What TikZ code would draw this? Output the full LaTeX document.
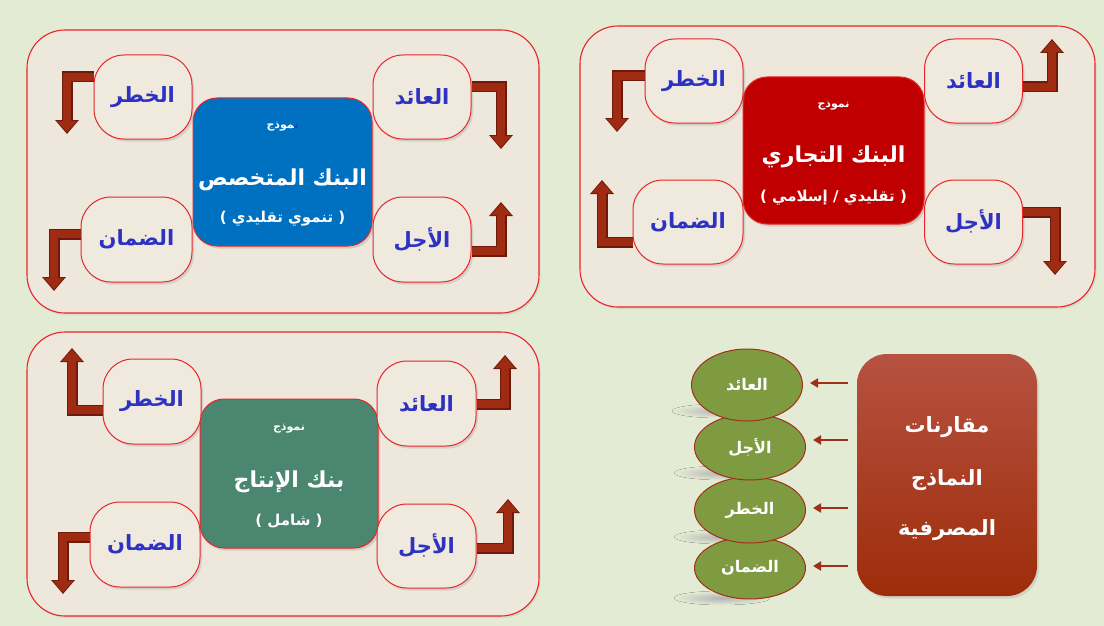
\documentclass[tikz,border=0pt]{standalone}
\usepackage{fontspec}
\usetikzlibrary{arrows.meta,shadows,shapes.geometric}
\TeXXeTstate=1
\newfontfamily\arfont[Script=Arabic]{DejaVu Sans}
\definecolor{bg}{HTML}{E4EBD4}
\definecolor{panelfill}{HTML}{EEE7DB}
\definecolor{boxfill}{HTML}{EFE9DE}
\definecolor{bord}{HTML}{E8262A}
\definecolor{lbl}{HTML}{2E32C2}
\definecolor{arrmain}{HTML}{9E2B12}
\definecolor{arrdark}{HTML}{6E1A0A}
\definecolor{cred}{HTML}{C00000}
\definecolor{cblue}{HTML}{0070C0}
\definecolor{cgreen}{HTML}{4A8670}
\definecolor{olive}{HTML}{7F9B42}
\definecolor{ellbord}{HTML}{A0301A}
\definecolor{mtop}{HTML}{B65241}
\definecolor{mbot}{HTML}{9E2C0A}
\newcommand\ar[1]{{\arfont\bfseries\beginR #1\endR}}
\newcommand\blockarrow[2]{\draw[blkout] #1 -| #2; \draw[blkin] #1 -| #2;}
\tikzset{
  panel/.style={draw=bord, line width=1.1pt, fill=panelfill, rounded corners=38pt, inner sep=0pt,
    drop shadow={shadow xshift=1.5pt, shadow yshift=-2pt, opacity=0.15}},
  smallbox/.style={draw=bord, line width=1pt, fill=boxfill, rounded corners=30pt,
    minimum width=98pt, minimum height=84pt, inner sep=0pt,
    font=\fontsize{21}{24}\selectfont, text=lbl,
    drop shadow={shadow xshift=2pt, shadow yshift=-2.5pt, opacity=0.22}},
  centerbox/.style={draw=bord, line width=1pt, rounded corners=24pt, inner sep=0pt,
    drop shadow={shadow xshift=2pt, shadow yshift=-2.5pt, opacity=0.25}},
  ctxt/.style={text=white, inner sep=0pt},
  blkout/.style={draw=arrdark, line width=11pt, line join=miter, -{Triangle[width=23pt,length=14pt]}},
  blkin/.style={draw=arrmain, line width=8.5pt, line join=miter, shorten >=1.6pt, -{Triangle[width=19.5pt,length=11.5pt]}},
  ell/.style={ellipse, draw=ellbord, line width=1pt, fill=olive, inner sep=0pt, text=white,
    minimum width=111pt, minimum height=70pt, font=\fontsize{16}{19}\selectfont},
  smallarr/.style={draw=ellbord, line width=2.6pt, shorten <=9pt, shorten >=7pt, -{Triangle[width=9pt,length=8pt]}}
}
\begin{document}
\begin{tikzpicture}[x=1pt,y=-1pt]
\useasboundingbox (0,0) rectangle (1104,626);
\fill[bg] (0,0) rectangle (1104,626);

% ===== top right panel =====
\node[panel, minimum width=515pt, minimum height=281pt] (p1) at (837.5,166.5) {};
\node[centerbox, fill=cred, minimum width=181pt, minimum height=147pt] (c1) at (833.5,150.5) {};
\node[ctxt, font=\fontsize{11}{13}\selectfont] (c1a) at (833.5,106) {\ar{نموذج}};
\node[ctxt, font=\fontsize{22}{26}\selectfont] (c1b) at (833.5,157) {\ar{البنك التجاري}};
\node[ctxt, font=\fontsize{15}{18}\selectfont] (c1c) at (833.5,198) {\ar{( تقليدي / إسلامي )}};
\node[smallbox] (r1) at (973.5,81) {\ar{العائد}};
\node[smallbox] (k1) at (694,81) {\ar{الخطر}};
\node[smallbox, minimum width=110pt] (d1) at (688,222) {\ar{الضمان}};
\node[smallbox] (a1) at (973.5,222) {\ar{الأجل}};
\coordinate (t1r) at (1052,39);
\coordinate (t1k) at (617,132);
\coordinate (t1d) at (602,180);
\coordinate (t1a) at (1055,275);
\blockarrow{(r1.east |- 0,87)}{(t1r)}
\blockarrow{(k1.west |- 0,76)}{(t1k)}
\blockarrow{(d1.west |- 0,242)}{(t1d)}
\blockarrow{(a1.east |- 0,212)}{(t1a)}

% ===== top left panel =====
\node[panel, minimum width=512pt, minimum height=283pt] (p2) at (283,171.5) {};
\node[centerbox, fill=cblue, minimum width=179pt, minimum height=148pt] (c2) at (282.5,172) {};
\node[ctxt, font=\fontsize{11}{13}\selectfont] (c2a) at (282.5,127) {{\arfont\bfseries\hbox{\char"200D موذج}\hbox{\color{lbl}ن\char"200D}}};
\node[ctxt, font=\fontsize{22}{26}\selectfont] (c2b) at (282.5,180) {\ar{البنك المتخصص}};
\node[ctxt, font=\fontsize{15}{18}\selectfont] (c2c) at (282.5,219) {\ar{( تنموي تقليدي )}};
\node[smallbox] (r2) at (422,97) {\ar{العائد}};
\node[smallbox] (k2) at (143,97) {\ar{الخطر}};
\node[smallbox, minimum width=111pt, minimum height=85pt] (d2) at (136.5,239.5) {\ar{الضمان}};
\node[smallbox, minimum height=85pt] (a2) at (422,239.5) {\ar{الأجل}};
\coordinate (t2r) at (501,149);
\coordinate (t2k) at (67,134);
\coordinate (t2d) at (54,291);
\coordinate (t2a) at (501,202);
\blockarrow{(r2.east |- 0,87)}{(t2r)}
\blockarrow{(k2.west |- 0,77)}{(t2k)}
\blockarrow{(d2.west |- 0,234)}{(t2d)}
\blockarrow{(a2.east |- 0,251)}{(t2a)}

% ===== bottom left panel =====
\node[panel, minimum width=512pt, minimum height=284pt] (p3) at (283,474) {};
\node[centerbox, fill=cgreen, minimum width=178pt, minimum height=149pt] (c3) at (289,473.5) {};
\node[ctxt, font=\fontsize{11}{13}\selectfont] (c3a) at (289,429) {\ar{نموذج}};
\node[ctxt, font=\fontsize{22}{26}\selectfont] (c3b) at (289,482) {\ar{بنك الإنتاج}};
\node[ctxt, font=\fontsize{15}{18}\selectfont] (c3c) at (289,521) {\ar{( شامل )}};
\node[smallbox, minimum width=99pt, minimum height=85pt] (r3) at (426.5,403.5) {\ar{العائد}};
\node[smallbox, minimum height=85pt] (k3) at (152,401.5) {\ar{الخطر}};
\node[smallbox, minimum width=110pt, minimum height=85pt] (d3) at (145,544.5) {\ar{الضمان}};
\node[smallbox, minimum width=99pt] (a3) at (426.5,546) {\ar{الأجل}};
\coordinate (t3r) at (505,355);
\coordinate (t3k) at (72,348);
\coordinate (t3d) at (63,594);
\coordinate (t3a) at (508,499);
\blockarrow{(r3.east |- 0,404)}{(t3r)}
\blockarrow{(k3.west |- 0,410)}{(t3k)}
\blockarrow{(d3.west |- 0,537)}{(t3d)}
\blockarrow{(a3.east |- 0,548)}{(t3a)}

% ===== bottom right: comparisons =====
\node[rounded corners=30pt, minimum width=180pt, minimum height=242pt, inner sep=0pt,
  top color=mtop, bottom color=mbot, draw=none,
  drop shadow={shadow xshift=2pt, shadow yshift=-2.5pt, opacity=0.2}] (m) at (947,475) {};
\node[ctxt, font=\fontsize{21}{25}\selectfont] (m1) at (947,427) {\ar{مقارنات}};
\node[ctxt, font=\fontsize{21}{25}\selectfont] (m2) at (947,480) {\ar{النماذج}};
\node[ctxt, font=\fontsize{21}{25}\selectfont] (m3) at (947,530) {\ar{المصرفية}};

\fill[inner color=black!30, outer color=bg] (722,598) ellipse [x radius=48pt, y radius=7pt];
\fill[inner color=black!30, outer color=bg] (722,537) ellipse [x radius=48pt, y radius=7pt];
\fill[inner color=black!30, outer color=bg] (722,473) ellipse [x radius=48pt, y radius=7pt];
\fill[inner color=black!30, outer color=bg] (720,411) ellipse [x radius=48pt, y radius=7pt];
\node[ell, minimum height=62pt] (e4) at (750,568) {\ar{الضمان}};
\node[ell, minimum height=66pt] (e3) at (750,510) {\ar{الخطر}};
\node[ell, minimum height=66pt] (e2) at (750,447) {\ar{الأجل}};
\node[ell, minimum height=72pt] (e1) at (747,385) {\ar{العائد}};
\draw[smallarr] (m.west |- 0,383) -- (e1.east |- 0,383);
\draw[smallarr] (m.west |- 0,440) -- (e2.east |- 0,440);
\draw[smallarr] (m.west |- 0,508) -- (e3.east |- 0,508);
\draw[smallarr] (m.west |- 0,566) -- (e4.east |- 0,566);
\end{tikzpicture}
\end{document}
